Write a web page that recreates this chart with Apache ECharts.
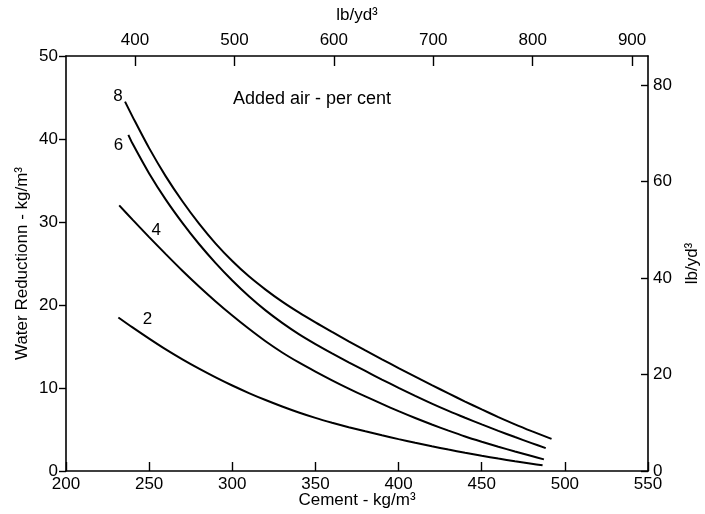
<!DOCTYPE html>
<html><head><meta charset="utf-8">
<script src="https://cdn.jsdelivr.net/npm/echarts@6/dist/echarts.min.js"></script>
<style>html,body{margin:0;padding:0;background:#fff}#c{width:705px;height:514px}</style>
</head><body><div id="c"></div>
<script>
// Added air (per cent) for each curve
const curveLabels = ['8', '6', '4', '2'];

// Curve 8 (cement kg/m3 -> water reduction kg/m3)
const cement8 = [235.5, 240, 250, 260, 270, 280, 290, 300, 310, 320, 330, 340, 350, 360, 370, 380, 390, 400, 410, 420, 430, 440, 450, 460, 470, 480, 490, 492];
const water8  = [44.5, 42.7, 38.9, 35.5, 32.5, 29.8, 27.4, 25.3, 23.45, 21.85, 20.4, 19.1, 17.9, 16.75, 15.62, 14.52, 13.45, 12.4, 11.37, 10.35, 9.35, 8.37, 7.42, 6.5, 5.62, 4.8, 4.02, 3.87];

// Curve 6
const cement6 = [237.5, 240, 250, 260, 270, 280, 290, 300, 310, 320, 330, 340, 350, 360, 370, 380, 390, 400, 410, 420, 430, 440, 450, 460, 470, 480, 488.5];
const water6  = [40.5, 39.45, 35.85, 32.7, 29.9, 27.35, 25.05, 22.95, 21.05, 19.35, 17.85, 16.5, 15.3, 14.18, 13.1, 12.05, 11.02, 10.02, 9.05, 8.12, 7.24, 6.41, 5.61, 4.84, 4.09, 3.36, 2.75];

// Curve 4
const cement4 = [232, 240, 250, 260, 270, 280, 290, 300, 310, 320, 330, 340, 350, 360, 370, 380, 390, 400, 410, 420, 430, 440, 450, 460, 470, 480, 487.4];
const water4  = [32.0, 30.28, 28.18, 26.13, 24.13, 22.23, 20.43, 18.73, 17.13, 15.63, 14.28, 13.08, 11.98, 10.93, 9.93, 8.98, 8.08, 7.21, 6.38, 5.6, 4.86, 4.16, 3.53, 2.93, 2.35, 1.8, 1.4];

// Curve 2
const cement2 = [231.5, 240, 250, 260, 270, 280, 290, 300, 310, 320, 330, 340, 350, 360, 370, 380, 390, 400, 410, 420, 430, 440, 450, 460, 470, 480, 486.6];
const water2  = [18.5, 17.3, 15.95, 14.65, 13.45, 12.33, 11.28, 10.3, 9.39, 8.55, 7.77, 7.05, 6.4, 5.82, 5.28, 4.78, 4.3, 3.84, 3.4, 2.98, 2.58, 2.2, 1.84, 1.5, 1.18, 0.88, 0.68];

// Tick labels of the secondary (imperial) axes
const topTickLabels = [400, 500, 600, 700, 800, 900];
const rightTickLabels = [0, 20, 40, 60, 80];

const curves = [
  [cement8, water8], [cement6, water6], [cement4, water4], [cement2, water2]
];
const labelOffsets = [[-7, -5], [-10, 10], [37, 25], [29, 2]];

const FONT = '"Liberation Sans", Arial, sans-serif';
const black = '#000';

const chart = echarts.init(document.getElementById('c'), null, {renderer: 'canvas'});

const series = curves.map((c, i) => ({
  type: 'line',
  xAxisIndex: 0,
  yAxisIndex: 0,
  data: c[0].map((x, k) => [x, c[1][k]]),
  smooth: 0.3,
  symbol: 'none',
  lineStyle: {color: black, width: 2},
  silent: true,
  animation: false,
  markPoint: {
    symbol: 'circle',
    symbolSize: 0,
    animation: false,
    data: [{
      coord: [c[0][0], c[1][0]],
      label: {
        show: true,
        formatter: curveLabels[i],
        offset: labelOffsets[i],
        color: black,
        fontSize: 17,
        fontFamily: FONT
      }
    }]
  }
}));

const axisLine = {show: true, onZero: false, lineStyle: {color: black, width: 1.6}};
const tickStyle = {color: black, width: 1.4};
const lbl = {color: black, fontSize: 17, fontFamily: FONT};
const nameStyle = {color: black, fontSize: 17, fontFamily: FONT};

chart.setOption({
  animation: false,
  backgroundColor: '#fff',
  grid: {left: 66, right: 57, top: 56, bottom: 43, containLabel: false, outerBoundsMode: 'none'},
  xAxis: [
    {
      type: 'value', position: 'bottom', min: 200, max: 550, interval: 50,
      axisLine: axisLine,
      axisTick: {show: true, inside: true, length: 9, lineStyle: tickStyle},
      axisLabel: Object.assign({margin: 5}, lbl),
      splitLine: {show: false},
      name: 'Cement - kg/m³', nameLocation: 'middle', nameGap: 21, nameMoveOverlap: false,
      nameTextStyle: nameStyle
    },
    {
      type: 'value', position: 'top', min: 330.6, max: 916, splitNumber: 5,
      axisLine: axisLine,
      axisTick: {show: true, inside: true, length: 10, lineStyle: tickStyle},
      axisLabel: Object.assign({margin: 7, showMinLabel: false, showMaxLabel: false}, lbl),
      splitLine: {show: false},
      name: 'lb/yd³', nameLocation: 'middle', nameGap: 32, nameMoveOverlap: false,
      nameTextStyle: nameStyle
    }
  ],
  yAxis: [
    {
      type: 'value', position: 'left', min: 0, max: 50, interval: 10,
      axisLine: axisLine,
      axisTick: {show: true, inside: false, length: 7, lineStyle: tickStyle},
      axisLabel: Object.assign({margin: 8}, lbl),
      splitLine: {show: false},
      name: 'Water Reductionn - kg/m³', nameLocation: 'middle', nameGap: 35, nameMoveOverlap: false,
      nameTextStyle: nameStyle
    },
    {
      type: 'value', position: 'right', min: 0, max: 86,
      axisLine: axisLine,
      axisTick: {show: true, inside: true, length: 7, customValues: rightTickLabels, lineStyle: tickStyle},
      axisLabel: Object.assign({margin: 5, customValues: rightTickLabels}, lbl),
      splitLine: {show: false},
      name: 'lb/yd³', nameLocation: 'middle', nameGap: 36, nameRotate: 90, nameMoveOverlap: false,
      nameTextStyle: nameStyle
    }
  ],
  graphic: [{
    type: 'text', left: 233, top: 90,
    style: {text: 'Added air - per cent', fill: black, fontSize: 18, fontFamily: FONT}
  }],
  series: series
});
</script>
</body></html>
